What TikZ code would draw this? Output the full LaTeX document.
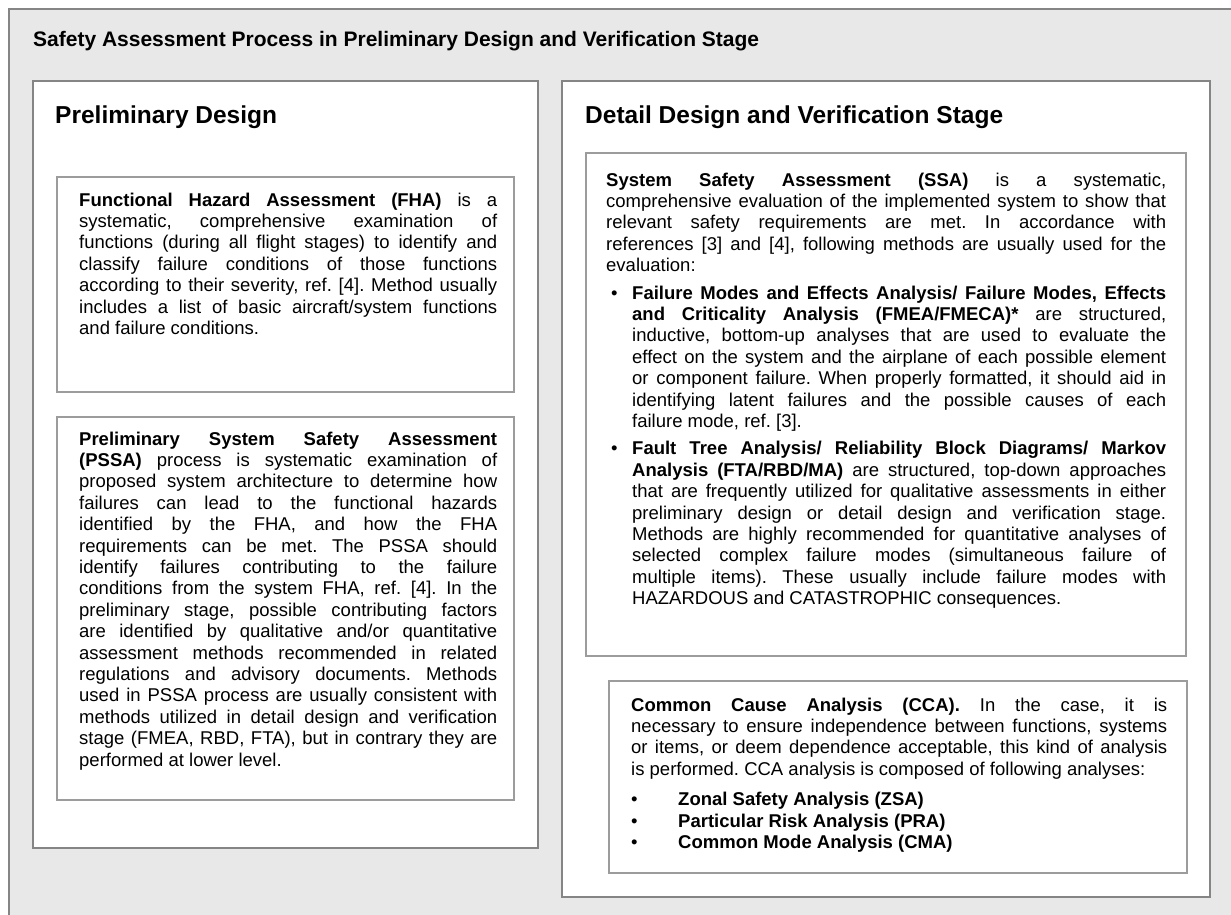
\documentclass[tikz,border=0pt]{standalone}
\usepackage{fontspec}
\setmainfont{Liberation Sans}
\usetikzlibrary{positioning}
\definecolor{PageGrey}{HTML}{E8E8E8}
\definecolor{PanelRule}{HTML}{858585}
\definecolor{BoxRule}{HTML}{9C9C9C}
\frenchspacing
\hyphenpenalty=10000
\exhyphenpenalty=10000
\tolerance=10000
\hbadness=10000
\newcommand{\BodySize}{\fontsize{18.5pt}{21.4pt}\selectfont}
% bullet paragraphs, hanging under the first word
\newcommand{\SsaItem}{\par\vspace{6pt}\hangindent=26pt\hangafter=1\noindent\makebox[26pt][l]{\hspace{5pt}\textbullet}}
\newcommand{\CcaItem}[1]{\par\noindent\makebox[47pt][l]{\textbullet}\textbf{#1}}
\tikzset{
  panel/.style={draw=PanelRule,fill=white,line width=2.5pt},
  infobox/.style={draw=BoxRule,fill=white,line width=2.5pt},
  heading/.style={anchor=base west,inner sep=0pt,font=\bfseries\fontsize{24.5pt}{28pt}\selectfont},
  bodytext/.style={anchor=north west,inner sep=0pt,align=justify,font=\BodySize},
}

\begin{document}
\begin{tikzpicture}[x=1pt,y=-1pt]
\useasboundingbox (0,0) rectangle (1231,915);
\clip (0,0) rectangle (1231,915);
% grey frame, runs off the right and bottom edge
\draw[draw=PanelRule,fill=PageGrey,line width=2.5pt] (9,9) rectangle (1260,940);
\node[anchor=base west,inner sep=0pt,font=\bfseries\fontsize{21pt}{25pt}\selectfont] (title) at (33,47)
  {Safety Assessment Process in Preliminary Design and Verification Stage};

% left column
\draw[panel] (33,81) rectangle (538,848);
\node[heading] (prelimhead) at (55,124) {Preliminary Design};
\draw[infobox] (57,177) rectangle (514,392);
\node[bodytext,text width=418pt] (fha) at (79,191) {\strut\textbf{Functional Hazard Assessment (FHA)} is a \linebreak
  systematic, comprehensive examination of \linebreak
  functions (during all flight stages) to identify and \linebreak
  classify failure conditions of those functions \linebreak
  according to their severity, ref. [4]. Method usually \linebreak
  includes a list of basic aircraft/system functions \linebreak
  and failure conditions.};
\draw[infobox] (57,417) rectangle (514,800);
\node[bodytext,text width=418pt] (pssa) at (79,430) {\strut\textbf{Preliminary System Safety Assessment \linebreak
  (PSSA)} process is systematic examination of \linebreak
  proposed system architecture to determine how \linebreak
  failures can lead to the functional hazards \linebreak
  identified by the FHA, and how the FHA \linebreak
  requirements can be met. The PSSA should \linebreak
  identify failures contributing to the failure \linebreak
  conditions from the system FHA, ref. [4]. In the \linebreak
  preliminary stage, possible contributing factors \linebreak
  are identified by qualitative and/or quantitative \linebreak
  assessment methods recommended in related \linebreak
  regulations and advisory documents. Methods \linebreak
  used in PSSA process are usually consistent with \linebreak
  methods utilized in detail design and verification \linebreak
  stage (FMEA, RBD, FTA), but in contrary they are \linebreak
  performed at lower level.};

% right column
\draw[panel] (562,81) rectangle (1210,897);
\node[heading] (detailhead) at (585,124) {Detail Design and Verification Stage};
\draw[infobox] (586,153) rectangle (1186,656);
\node[bodytext,text width=560pt] (ssa) at (606,171) {\strut\textbf{System Safety Assessment (SSA)} is a systematic, \linebreak
  comprehensive evaluation of the implemented system to show that \linebreak
  relevant safety requirements are met. In accordance with \linebreak
  references [3] and [4], following methods are usually used for the \linebreak
  evaluation:
  \SsaItem\textbf{Failure Modes and Effects Analysis/ Failure Modes, Effects \linebreak
  and Criticality Analysis (FMEA/FMECA)*} are structured, \linebreak
  inductive, bottom-up analyses that are used to evaluate the \linebreak
  effect on the system and the airplane of each possible element \linebreak
  or component failure. When properly formatted, it should aid in \linebreak
  identifying latent failures and the possible causes of each \linebreak
  failure mode, ref. [3].
  \SsaItem\textbf{Fault Tree Analysis/ Reliability Block Diagrams/ Markov \linebreak
  Analysis (FTA/RBD/MA)} are structured, top-down approaches \linebreak
  that are frequently utilized for qualitative assessments in either \linebreak
  preliminary design or detail design and verification stage. \linebreak
  Methods are highly recommended for quantitative analyses of \linebreak
  selected complex failure modes (simultaneous failure of \linebreak
  multiple items). These usually include failure modes with \linebreak
  HAZARDOUS and CATASTROPHIC consequences.\par};
\draw[infobox] (609,681) rectangle (1187,873);
\node[bodytext,text width=536pt] (cca) at (631,696) {\strut\textbf{Common Cause Analysis (CCA).} In the case, it is \linebreak
  necessary to ensure independence between functions, systems \linebreak
  or items, or deem dependence acceptable, this kind of analysis \linebreak
  is performed. CCA analysis is composed of following analyses:
  \par\vspace{9pt}
  \CcaItem{Zonal Safety Analysis (ZSA)}
  \CcaItem{Particular Risk Analysis (PRA)}
  \CcaItem{Common Mode Analysis (CMA)}};
\end{tikzpicture}
\end{document}
